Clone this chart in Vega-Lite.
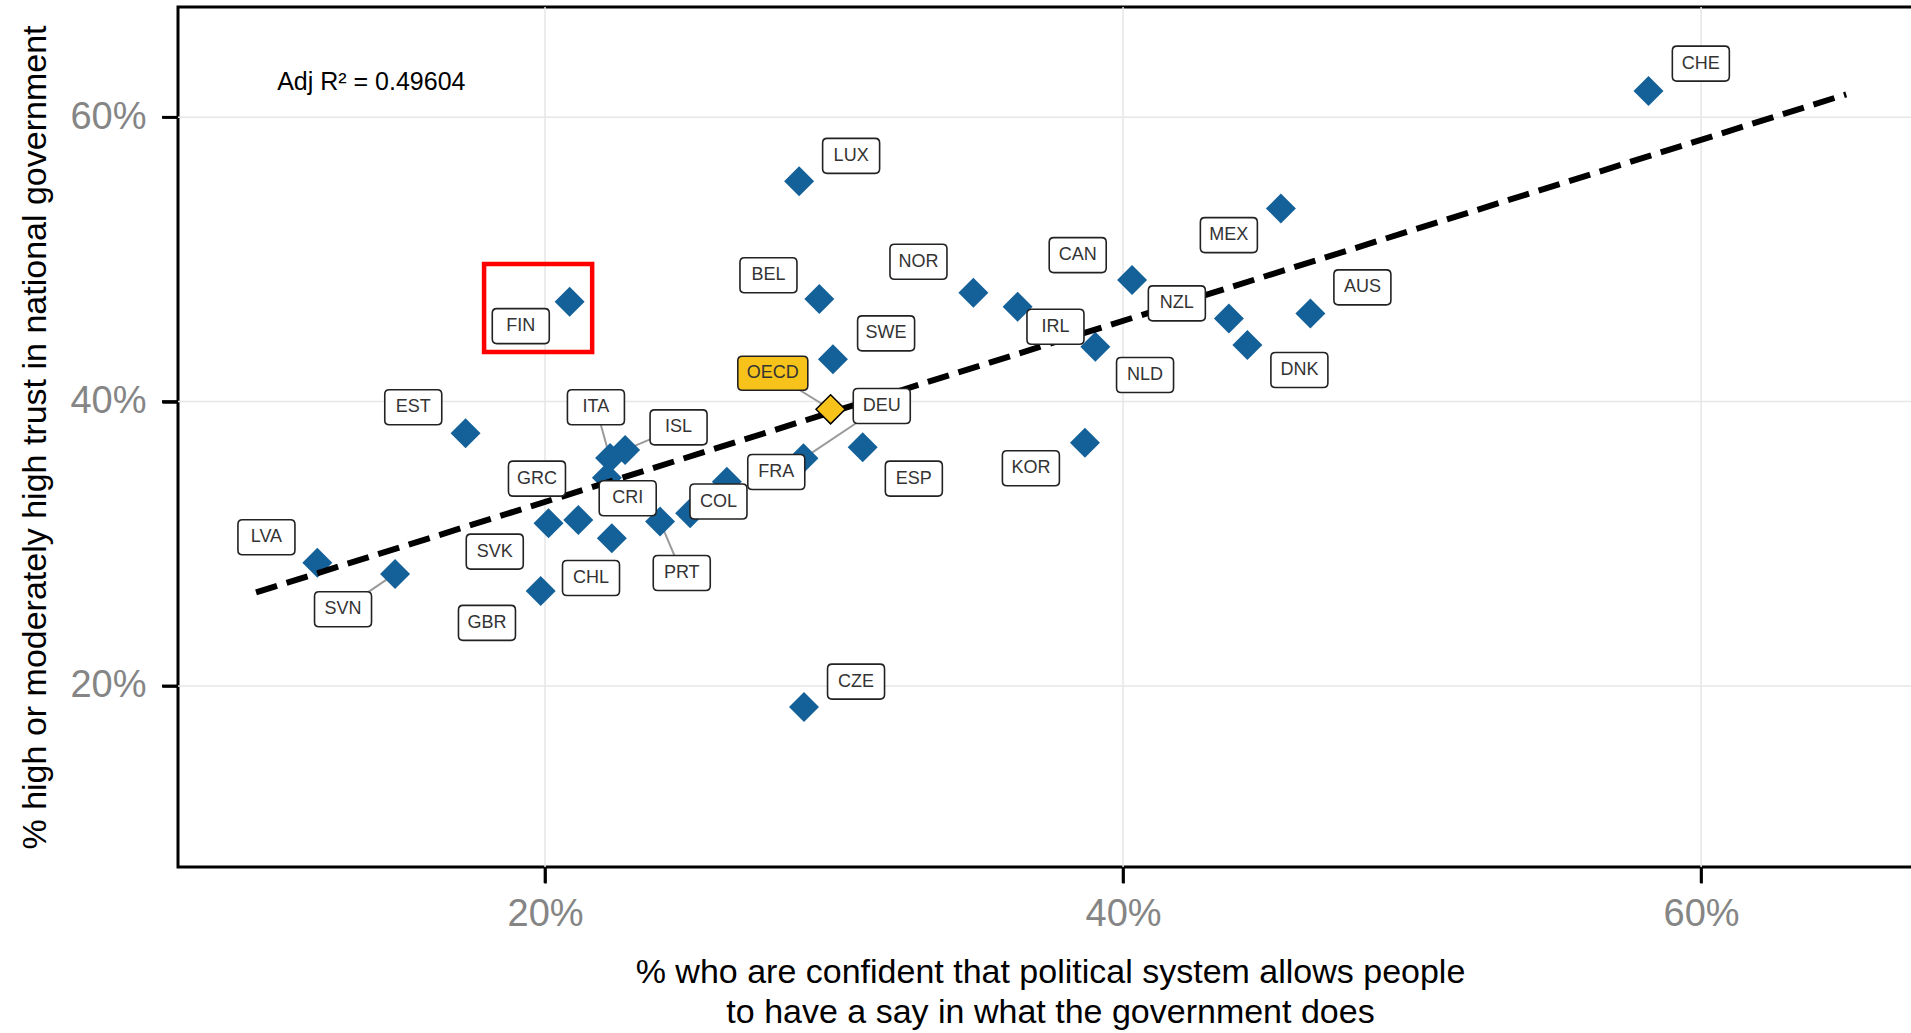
{
  "$schema": "https://vega.github.io/schema/vega-lite/v6.json",
  "width": 1737,
  "height": 860,
  "autosize": {"type": "none"},
  "padding": {"left": 178, "top": 7, "right": -4, "bottom": 166},
  "background": "white",
  "datasets": {
    "pts": [
      {"country": "CHE", "x": 58.18, "y": 61.85, "label_x": 59.99, "label_y": 63.77},
      {"country": "LUX", "x": 28.79, "y": 55.50, "label_x": 30.59, "label_y": 57.28},
      {"country": "FIN", "x": 20.85, "y": 47.02, "label_x": 19.16, "label_y": 45.31},
      {"country": "BEL", "x": 29.49, "y": 47.21, "label_x": 27.73, "label_y": 48.88},
      {"country": "NOR", "x": 34.82, "y": 47.65, "label_x": 32.92, "label_y": 49.83},
      {"country": "CAN", "x": 40.31, "y": 48.55, "label_x": 38.43, "label_y": 50.30},
      {"country": "IRL", "x": 36.35, "y": 46.67, "label_x": 37.66, "label_y": 45.26},
      {"country": "NLD", "x": 39.04, "y": 43.86, "label_x": 40.76, "label_y": 41.87},
      {"country": "MEX", "x": 45.46, "y": 53.58, "label_x": 43.66, "label_y": 51.71},
      {"country": "NZL", "x": 43.66, "y": 45.85, "label_x": 41.86, "label_y": 46.91},
      {"country": "DNK", "x": 44.30, "y": 43.98, "label_x": 46.10, "label_y": 42.22},
      {"country": "AUS", "x": 46.48, "y": 46.20, "label_x": 48.28, "label_y": 48.03},
      {"country": "KOR", "x": 38.68, "y": 37.11, "label_x": 36.81, "label_y": 35.31},
      {"country": "SWE", "x": 29.96, "y": 42.97, "label_x": 31.80, "label_y": 44.80},
      {"country": "OECD", "x": 29.88, "y": 39.46, "label_x": 27.88, "label_y": 41.99},
      {"country": "DEU", "x": 28.94, "y": 36.01, "label_x": 31.65, "label_y": 39.69},
      {"country": "ESP", "x": 30.99, "y": 36.79, "label_x": 32.76, "label_y": 34.58},
      {"country": "FRA", "x": 26.29, "y": 34.37, "label_x": 28.00, "label_y": 35.05},
      {"country": "EST", "x": 17.25, "y": 37.77, "label_x": 15.44, "label_y": 39.60},
      {"country": "ITA", "x": 22.25, "y": 36.04, "label_x": 21.76, "label_y": 39.60},
      {"country": "ISL", "x": 22.77, "y": 36.60, "label_x": 24.62, "label_y": 38.19},
      {"country": "CRI", "x": 22.14, "y": 34.64, "label_x": 22.86, "label_y": 33.20},
      {"country": "GRC", "x": 21.15, "y": 31.68, "label_x": 19.72, "label_y": 34.58},
      {"country": "COL", "x": 25.02, "y": 32.15, "label_x": 26.00, "label_y": 32.97},
      {"country": "PRT", "x": 23.98, "y": 31.56, "label_x": 24.73, "label_y": 27.95},
      {"country": "CHL", "x": 22.31, "y": 30.39, "label_x": 21.59, "label_y": 27.59},
      {"country": "SVK", "x": 20.12, "y": 31.45, "label_x": 18.26, "label_y": 29.45},
      {"country": "GBR", "x": 19.85, "y": 26.68, "label_x": 17.99, "label_y": 24.44},
      {"country": "LVA", "x": 12.12, "y": 28.67, "label_x": 10.36, "label_y": 30.46},
      {"country": "SVN", "x": 14.81, "y": 27.88, "label_x": 13.01, "label_y": 25.40},
      {"country": "CZE", "x": 28.96, "y": 18.52, "label_x": 30.76, "label_y": 20.31}
    ],
    "fit": [
      {"x": 10.0, "y": 26.58},
      {"x": 65.02, "y": 61.61}
    ],
    "gridvals": [
      {"v": 20},
      {"v": 40},
      {"v": 60}
    ],
    "tickends": [
      {"v": 20, "from_x": 7.3, "to_x": 6.75, "from_y": 7.27, "to_y": 6.15},
      {"v": 40, "from_x": 7.3, "to_x": 6.75, "from_y": 7.27, "to_y": 6.15},
      {"v": 60, "from_x": 7.3, "to_x": 6.75, "from_y": 7.27, "to_y": 6.15}
    ],
    "note": [
      {"x": 10.73, "y": 62.48, "text": "Adj R² = 0.49604"}
    ],
    "highlight": [
      {"x1": 17.89, "x2": 21.63, "y1": 49.68, "y2": 43.49}
    ]
  },
  "config": {
    "view": {"stroke": "#000000", "strokeWidth": 3},
    "axis": {
      "domain": false,
      "grid": false,
      "ticks": true,
      "tickColor": "#000000",
      "tickWidth": 2.5,
      "tickSize": 16,
      "labelFont": "Liberation Sans",
      "labelFontSize": 38,
      "labelColor": "#858585",
      "titleFontWeight": "normal",
      "titleColor": "#000000"
    }
  },
  "layer": [
    {
      "data": {"name": "gridvals"},
      "mark": {"type": "rule", "color": "#E6E6E6", "strokeWidth": 1.5},
      "encoding": {
        "x": {
          "field": "v", "type": "quantitative",
          "scale": {"domain": [7.3, 67.4], "nice": false, "zero": false},
          "axis": {
            "title": ["% who are confident that political system allows people", "to have a say in what the government does"],
            "values": [20, 40, 60],
            "labelExpr": "datum.value + '%'",
            "labelPadding": 12,
            "titleFont": "Liberation Sans",
            "titleFontSize": 34,
            "titleLineHeight": 40,
            "titleBaseline": "alphabetic",
            "titleX": 872,
            "titleY": 115
          }
        }
      }
    },
    {
      "data": {"name": "gridvals"},
      "mark": {"type": "rule", "color": "#E6E6E6", "strokeWidth": 1.5},
      "encoding": {
        "y": {
          "field": "v", "type": "quantitative",
          "scale": {"domain": [7.27, 67.75], "nice": false, "zero": false},
          "axis": {
            "title": "% high or moderately high trust in national government",
            "values": [20, 40, 60],
            "labelExpr": "datum.value + '%'",
            "labelPadding": 16,
            "titleFont": "Liberation Sans",
            "titleFontSize": 34,
            "titleAngle": -90,
            "titleBaseline": "alphabetic",
            "titleX": -133,
            "titleY": 430
          }
        }
      }
    },
    {
      "data": {"name": "tickends"},
      "mark": {"type": "rule", "color": "#000000", "strokeWidth": 2.5, "clip": false},
      "encoding": {
        "x": {"field": "v", "type": "quantitative", "scale": {"domain": [7.3, 67.4], "nice": false, "zero": false}},
        "y": {"field": "from_y", "type": "quantitative", "scale": {"domain": [7.27, 67.75], "nice": false, "zero": false}},
        "y2": {"field": "to_y"}
      }
    },
    {
      "data": {"name": "tickends"},
      "mark": {"type": "rule", "color": "#000000", "strokeWidth": 2.5, "clip": false},
      "encoding": {
        "y": {"field": "v", "type": "quantitative", "scale": {"domain": [7.27, 67.75], "nice": false, "zero": false}},
        "x": {"field": "from_x", "type": "quantitative", "scale": {"domain": [7.3, 67.4], "nice": false, "zero": false}},
        "x2": {"field": "to_x"}
      }
    },
    {
      "data": {"name": "tickends"},
      "mark": {"type": "point", "shape": "M0,0L0,2", "filled": false, "stroke": "#000000", "strokeWidth": 2.5, "size": 256, "opacity": 1, "clip": false},
      "encoding": {
        "x": {"field": "v", "type": "quantitative", "scale": {"domain": [7.3, 67.4], "nice": false, "zero": false}},
        "y": {"field": "from_y", "type": "quantitative", "scale": {"domain": [7.27, 67.75], "nice": false, "zero": false}}
      }
    },
    {
      "data": {"name": "tickends"},
      "mark": {"type": "point", "shape": "M0,0L-2,0", "filled": false, "stroke": "#000000", "strokeWidth": 2.5, "size": 256, "opacity": 1, "clip": false},
      "encoding": {
        "y": {"field": "v", "type": "quantitative", "scale": {"domain": [7.27, 67.75], "nice": false, "zero": false}},
        "x": {"field": "from_x", "type": "quantitative", "scale": {"domain": [7.3, 67.4], "nice": false, "zero": false}}
      }
    },
    {
      "data": {"name": "pts"},
      "transform": [{"filter": {"field": "country", "oneOf": ["OECD", "DEU", "ITA", "ISL", "PRT", "SVN"]}}],
      "mark": {"type": "rule", "color": "#9a9a9a", "strokeWidth": 2},
      "encoding": {
        "x": {"field": "x", "type": "quantitative", "scale": {"domain": [7.3, 67.4], "nice": false, "zero": false}},
        "y": {"field": "y", "type": "quantitative", "scale": {"domain": [7.27, 67.75], "nice": false, "zero": false}},
        "x2": {"field": "label_x"},
        "y2": {"field": "label_y"}
      }
    },
    {
      "data": {"name": "pts"},
      "transform": [{"filter": "datum.country !== 'OECD'"}],
      "mark": {"type": "point", "shape": "diamond", "filled": true, "color": "#14619A", "size": 900, "opacity": 1, "strokeWidth": 0},
      "encoding": {
        "x": {"field": "x", "type": "quantitative", "scale": {"domain": [7.3, 67.4], "nice": false, "zero": false}},
        "y": {"field": "y", "type": "quantitative", "scale": {"domain": [7.27, 67.75], "nice": false, "zero": false}}
      }
    },
    {
      "data": {"name": "fit"},
      "mark": {"type": "line", "color": "#000000", "strokeWidth": 6, "strokeDash": [22, 10], "strokeCap": "butt"},
      "encoding": {
        "x": {"field": "x", "type": "quantitative", "scale": {"domain": [7.3, 67.4], "nice": false, "zero": false}},
        "y": {"field": "y", "type": "quantitative", "scale": {"domain": [7.27, 67.75], "nice": false, "zero": false}}
      }
    },
    {
      "data": {"name": "pts"},
      "transform": [{"filter": "datum.country === 'OECD'"}],
      "mark": {"type": "point", "shape": "diamond", "filled": true, "fill": "#F7C31B", "stroke": "#000000", "strokeWidth": 1.5, "size": 850, "opacity": 1},
      "encoding": {
        "x": {"field": "x", "type": "quantitative", "scale": {"domain": [7.3, 67.4], "nice": false, "zero": false}},
        "y": {"field": "y", "type": "quantitative", "scale": {"domain": [7.27, 67.75], "nice": false, "zero": false}}
      }
    },
    {
      "data": {"name": "pts"},
      "transform": [{"filter": "datum.country !== 'OECD'"}],
      "mark": {
        "type": "point",
        "shape": "M-0.84,-0.614L0.84,-0.614Q1,-0.614 1,-0.454L1,0.454Q1,0.614 0.84,0.614L-0.84,0.614Q-1,0.614 -1,0.454L-1,-0.454Q-1,-0.614 -0.84,-0.614Z",
        "filled": true, "fill": "#FFFFFF", "stroke": "#222222", "strokeWidth": 1.6, "size": 3249, "opacity": 1
      },
      "encoding": {
        "x": {"field": "label_x", "type": "quantitative", "scale": {"domain": [7.3, 67.4], "nice": false, "zero": false}},
        "y": {"field": "label_y", "type": "quantitative", "scale": {"domain": [7.27, 67.75], "nice": false, "zero": false}}
      }
    },
    {
      "data": {"name": "pts"},
      "transform": [{"filter": "datum.country === 'OECD'"}],
      "mark": {
        "type": "point",
        "shape": "M-0.87,-0.486L0.87,-0.486Q1,-0.486 1,-0.356L1,0.356Q1,0.486 0.87,0.486L-0.87,0.486Q-1,0.486 -1,0.356L-1,-0.356Q-1,-0.486 -0.87,-0.486Z",
        "filled": true, "fill": "#F7C31B", "stroke": "#222222", "strokeWidth": 1.6, "size": 4900, "opacity": 1
      },
      "encoding": {
        "x": {"field": "label_x", "type": "quantitative", "scale": {"domain": [7.3, 67.4], "nice": false, "zero": false}},
        "y": {"field": "label_y", "type": "quantitative", "scale": {"domain": [7.27, 67.75], "nice": false, "zero": false}}
      }
    },
    {
      "data": {"name": "pts"},
      "mark": {"type": "text", "font": "Liberation Sans", "fontSize": 18, "color": "#333333", "align": "center", "baseline": "middle"},
      "encoding": {
        "x": {"field": "label_x", "type": "quantitative", "scale": {"domain": [7.3, 67.4], "nice": false, "zero": false}},
        "y": {"field": "label_y", "type": "quantitative", "scale": {"domain": [7.27, 67.75], "nice": false, "zero": false}},
        "text": {"field": "country"}
      }
    },
    {
      "data": {"name": "highlight"},
      "mark": {"type": "rect", "filled": false, "stroke": "#FF0000", "strokeWidth": 4.5, "opacity": 1},
      "encoding": {
        "x": {"field": "x1", "type": "quantitative", "scale": {"domain": [7.3, 67.4], "nice": false, "zero": false}},
        "x2": {"field": "x2"},
        "y": {"field": "y1", "type": "quantitative", "scale": {"domain": [7.27, 67.75], "nice": false, "zero": false}},
        "y2": {"field": "y2"}
      }
    },
    {
      "data": {"name": "note"},
      "mark": {"type": "text", "font": "Liberation Sans", "fontSize": 25, "color": "#000000", "align": "left", "baseline": "middle"},
      "encoding": {
        "x": {"field": "x", "type": "quantitative", "scale": {"domain": [7.3, 67.4], "nice": false, "zero": false}},
        "y": {"field": "y", "type": "quantitative", "scale": {"domain": [7.27, 67.75], "nice": false, "zero": false}},
        "text": {"field": "text"}
      }
    }
  ]
}
